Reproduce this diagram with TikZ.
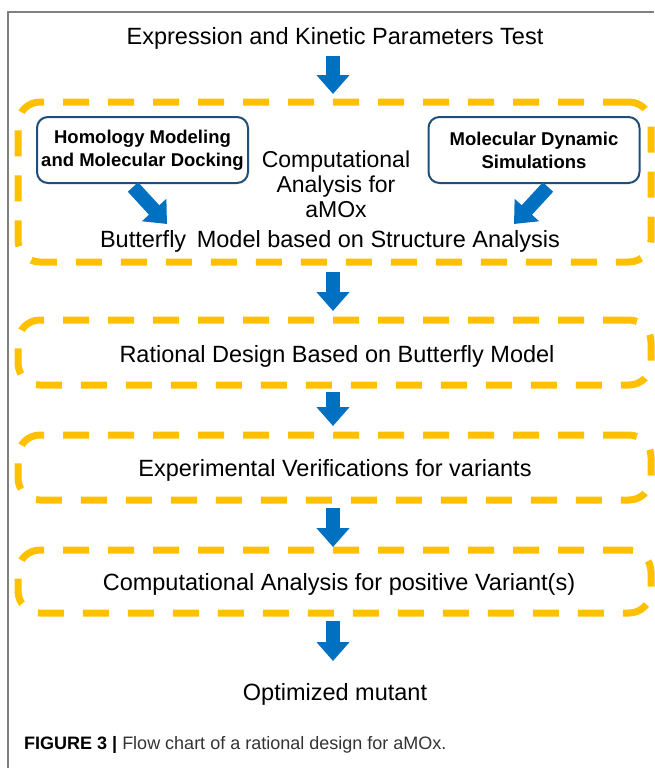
\documentclass[tikz,border=0pt]{standalone}
\usepackage{fontspec}
\setmainfont{Liberation Sans}
\usetikzlibrary{arrows.meta}
\definecolor{arrowblue}{HTML}{0070C0}
\definecolor{dashorange}{HTML}{FFC000}
\definecolor{boxblue}{HTML}{1F4E79}
\definecolor{framegray}{HTML}{808080}
\begin{document}
\begin{tikzpicture}[x=1pt,y=-1pt,
  fatarrow/.style={draw=arrowblue, line width=14pt,
    -{Triangle[width=32pt,length=19pt,fill=arrowblue]}},
  dashbox/.style={draw=dashorange, line width=7pt, dash pattern=on 26pt off 19pt,
    rounded corners=22pt, minimum width=633pt, inner sep=0pt},
  toolbox/.style={draw=boxblue, line width=2pt, rounded corners=11pt,
    minimum width=211pt, minimum height=66pt, align=center, inner sep=1pt,
    font=\fontsize{18.5}{23}\selectfont\bfseries},
  lbl/.style={font=\fontsize{23.5}{26}\selectfont, inner sep=0pt, align=center},
  captionstyle/.style={font=\fontsize{18}{22}\selectfont, inner sep=0pt, anchor=west},
]
\useasboundingbox (0,0) rectangle (654,768);
\draw[framegray, line width=1.2pt] (8,768) -- (8,12) -- (654,12);

\node[lbl] (title) at (335,38) {Expression and Kinetic Parameters Test};

\node[dashbox, minimum height=160pt] (b1) at (334.5,182) {};
\node[toolbox] (hm) at (142.5,150) {Homology Modeling\\and Molecular Docking};
\node[toolbox] (md) at (534,150) {Molecular Dynamic\\Simulations};
\node[lbl, font=\fontsize{23}{25}\selectfont] (comp) at (336,184) {Computational\\Analysis for\\aMOx};
\node[lbl] (bfly) at (330,241) {Butterfly\hspace{0.45em}Model based on Structure Analysis};

\node[dashbox, minimum height=65pt] (b2) at (334.5,352.5) {};
\node[lbl] (rd) at (337,356) {Rational Design Based on Butterfly Model};

\node[dashbox, minimum height=65pt] (b3) at (334.5,467.5) {};
\node[lbl] (ev) at (335,470) {Experimental Verifications for variants};

\node[dashbox, minimum height=63pt] (b4) at (334.5,581.5) {};
\node[lbl] (ca) at (339,584) {Computational Analysis for positive Variant(s)};

\node[lbl] (opt) at (335,694) {Optimized mutant};

\node[captionstyle] (caption) at (24,745) {\textbf{FIGURE 3 |} \textcolor{black!80}{Flow chart of a rational design for aMOx.}};

\coordinate (a1s) at (333,56);  \coordinate (a1e) at (333,94);
\coordinate (a2s) at (333,272); \coordinate (a2e) at (333,311);
\coordinate (a3s) at (333,392); \coordinate (a3e) at (333,426);
\coordinate (a4s) at (333,508); \coordinate (a4e) at (333,547);
\coordinate (a5s) at (333,621); \coordinate (a5e) at (333,661);
\coordinate (dls) at (133,187); \coordinate (dle) at (167,224);
\coordinate (drs) at (548,187); \coordinate (dre) at (514,224);

\draw[fatarrow] (a1s) -- (a1e);
\draw[fatarrow] (a2s) -- (a2e);
\draw[fatarrow] (a3s) -- (a3e);
\draw[fatarrow] (a4s) -- (a4e);
\draw[fatarrow] (a5s) -- (a5e);
\draw[fatarrow] (dls) -- (dle);
\draw[fatarrow] (drs) -- (dre);
\end{tikzpicture}
\end{document}
